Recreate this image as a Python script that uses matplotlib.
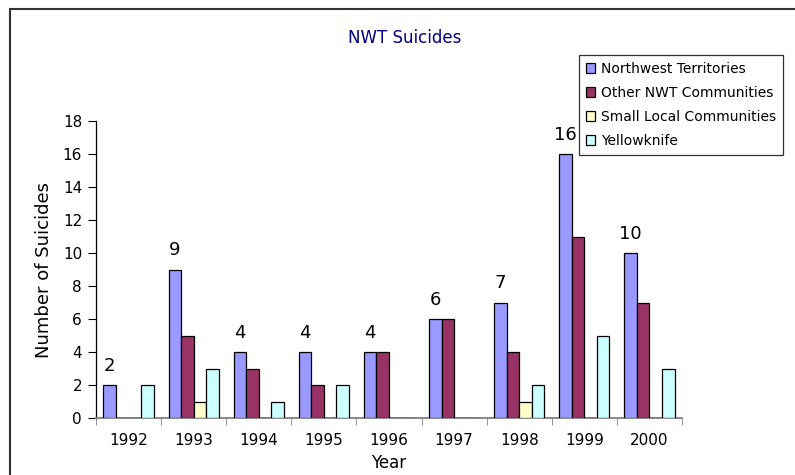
import matplotlib
matplotlib.use("Agg")
import matplotlib.pyplot as plt
from matplotlib.patches import Rectangle
import numpy as np

years = ["1992", "1993", "1994", "1995", "1996", "1997", "1998", "1999", "2000"]
nwt = [2, 9, 4, 4, 4, 6, 7, 16, 10]
other_nwt = [0, 5, 3, 2, 4, 6, 4, 11, 7]
small_local = [0, 1, 0, 0, 0, 0, 1, 0, 0]
yellowknife = [2, 3, 1, 2, 0, 0, 2, 5, 3]

series_names = ["Northwest Territories", "Other NWT Communities",
                "Small Local Communities", "Yellowknife"]
series_values = [nwt, other_nwt, small_local, yellowknife]
series_colors = ["#9999FF", "#993366", "#FFFFCC", "#CCFFFF"]

plt.rcParams["font.family"] = ["DejaVu Sans"]

W, H = 795, 475
fig = plt.figure(figsize=(W / 100, H / 100), dpi=100)
fig.patch.set_facecolor("white")

# chart-area border (runs off the right and bottom edges)
fig.patches.append(Rectangle((10 / W, -0.1), 1.2, 1 - 9 / H + 0.1,
                             transform=fig.transFigure, fill=False,
                             edgecolor="#333333", linewidth=1.5))

ax = fig.add_axes([96 / W, (H - 418) / H, (682 - 96) / W, (418 - 121) / H])

x = np.arange(len(years))
bw = 0.193
for i, (name, vals, col) in enumerate(zip(series_names, series_values, series_colors)):
    ax.bar(x + (i - 1.5) * bw, vals, width=bw, color=col, edgecolor="black",
           linewidth=0.9, label=name, zorder=3)

# value labels above the Northwest Territories bars
for xi, v in zip(x, nwt):
    ax.annotate(str(v), (xi - 1.5 * bw, v), xytext=(0, 14),
                textcoords="offset points", ha="center", va="center",
                fontsize=13)

ax.set_xlim(-0.5, len(years) - 0.5)
ax.set_ylim(0, 18)
ax.set_yticks(range(0, 19, 2))
ax.set_xticks(x)
ax.set_xticklabels(years)
ax.set_xticks(np.arange(-0.5, len(years), 1), minor=True)
ax.tick_params(axis="x", which="major", length=0, pad=11, labelsize=11)
ax.tick_params(axis="x", which="minor", length=5, direction="out", color="#808080")
ax.tick_params(axis="y", length=6, direction="out", labelsize=11, pad=4)

for s in ["top", "right"]:
    ax.spines[s].set_visible(False)
ax.spines["bottom"].set_color("#808080")
ax.spines["bottom"].set_linewidth(1.3)
ax.spines["left"].set_color("black")
ax.spines["left"].set_linewidth(0.9)

ax.set_xlabel("Year", fontsize=12, labelpad=4)
ax.set_ylabel("Number of Suicides", fontsize=13, labelpad=7)

fig.text(405 / W, 1 - 38 / H, "NWT Suicides", ha="center", va="center",
         fontsize=12, color="#000080")

leg = ax.legend(loc="upper right", bbox_to_anchor=(783 / W, 1 - 55 / H),
                bbox_transform=fig.transFigure, frameon=True, fancybox=False,
                edgecolor="black", fontsize=10, handlelength=0.7,
                handleheight=0.7, handletextpad=0.4, labelspacing=0.72,
                borderpad=0.5, borderaxespad=0)
leg.get_frame().set_linewidth(0.9)

fig.savefig("out.png", dpi=100)
